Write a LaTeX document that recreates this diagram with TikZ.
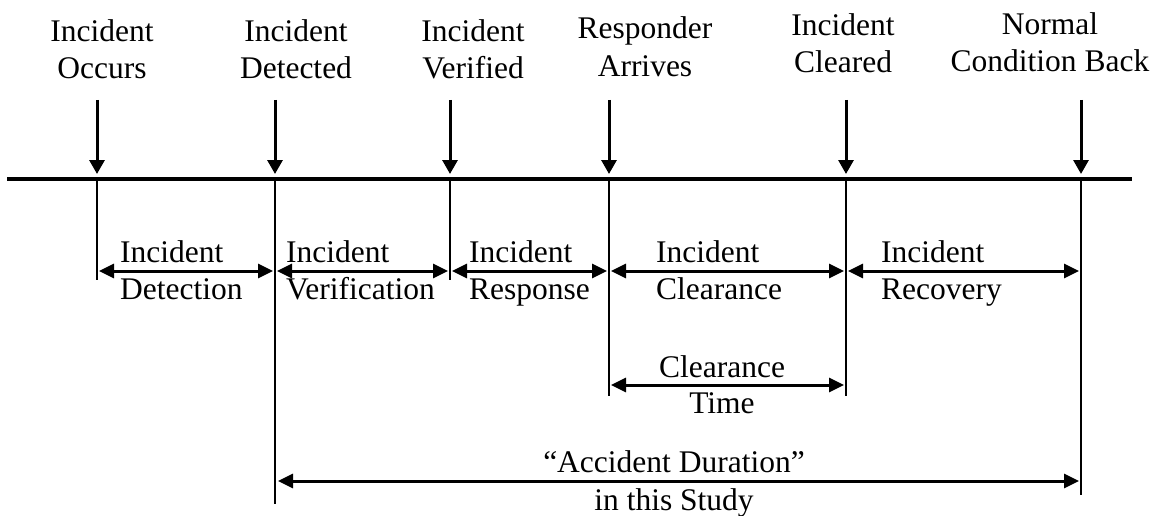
\documentclass[tikz,border=0pt]{standalone}
\usepackage{fontspec}
\setmainfont{Liberation Serif}
\usetikzlibrary{arrows.meta}

\begin{document}
\begin{tikzpicture}[x=1pt,y=-1pt,
  lbl/.style={inner sep=0pt,anchor=base,font=\fontsize{31.5}{37}\selectfont},
  lblw/.style={lbl,anchor=base west},
  timeline/.style={line width=4pt},
  tick/.style={line width=2pt},
  event/.style={line width=3pt,-{Triangle[length=14pt,width=15pt]}},
  span/.style={line width=3pt,{Triangle[length=15pt,width=14pt]}-{Triangle[length=15pt,width=14pt]}}]
\useasboundingbox (0,0) rectangle (1155,516);

% time axis
\coordinate (axL) at (7,179);
\coordinate (axR) at (1132,179);
\draw[timeline] (axL) -- (axR);

% event instants on the axis
\coordinate (tOcc) at (97,179);
\coordinate (tDet) at (275,179);
\coordinate (tVer) at (450,179);
\coordinate (tRes) at (609,179);
\coordinate (tClr) at (846,179);
\coordinate (tNor) at (1081,179);

% event labels
\node[lbl] (occ1) at (102,42) {Incident};
\node[lbl] (occ2) at (102,79) {Occurs};
\node[lbl] (det1) at (296,42) {Incident};
\node[lbl] (det2) at (296,79) {Detected};
\node[lbl] (ver1) at (473,42) {Incident};
\node[lbl] (ver2) at (473,79) {Verified};
\node[lbl] (res1) at (645,39) {Responder};
\node[lbl] (res2) at (645,77) {Arrives};
\node[lbl] (clr1) at (843,36) {Incident};
\node[lbl] (clr2) at (843,73) {Cleared};
\node[lbl] (nor1) at (1050,35) {Normal};
\node[lbl] (nor2) at (1050,72) {Condition Back};

% arrows pointing down at each instant
\foreach \t in {tOcc,tDet,tVer,tRes,tClr,tNor}{
  \draw[event] ([yshift=79pt]\t) -- ([yshift=5pt]\t);
}

% drop lines below the axis
\coordinate (bOcc) at (97,280);
\coordinate (bDet) at (275,504);
\coordinate (bVer) at (450,280);
\coordinate (bRes) at (609,396);
\coordinate (bClr) at (846,396);
\coordinate (bNor) at (1081,495);
\draw[tick] (tOcc) -- (bOcc);
\draw[tick] (tDet) -- (bDet);
\draw[tick] (tVer) -- (bVer);
\draw[tick] (tRes) -- (bRes);
\draw[tick] (tClr) -- (bClr);
\draw[tick] (tNor) -- (bNor);

% phase spans
\coordinate (p0) at (99,271);
\coordinate (p1) at (273,271);
\coordinate (p2) at (277,271);
\coordinate (p3) at (448,271);
\coordinate (p4) at (452,271);
\coordinate (p5) at (607,271);
\coordinate (p6) at (611,271);
\coordinate (p7) at (844,271);
\coordinate (p8) at (848,271);
\coordinate (p9) at (1079,271);
\draw[span] (p0) -- (p1);
\draw[span] (p2) -- (p3);
\draw[span] (p4) -- (p5);
\draw[span] (p6) -- (p7);
\draw[span] (p8) -- (p9);

\node[lblw] (pd1) at (120,262) {Incident};
\node[lblw] (pd2) at (120,299) {Detection};
\node[lblw] (pv1) at (286,262) {Incident};
\node[lblw] (pv2) at (286,299) {Verification};
\node[lblw] (pr1) at (469,262) {Incident};
\node[lblw] (pr2) at (469,299) {Response};
\node[lblw] (pc1) at (656,262) {Incident};
\node[lblw] (pc2) at (656,299) {Clearance};
\node[lblw] (pk1) at (881,262) {Incident};
\node[lblw] (pk2) at (881,299) {Recovery};

% clearance time
\coordinate (c0) at (611,385);
\coordinate (c1) at (844,385);
\draw[span] (c0) -- (c1);
\node[lbl] (ct1) at (722,377) {Clearance};
\node[lbl] (ct2) at (722,413) {Time};

% duration used in the study
\coordinate (d0) at (278,481);
\coordinate (d1) at (1079,481);
\draw[span] (d0) -- (d1);
\node[lbl] (ad1) at (674,472) {“Accident Duration”};
\node[lbl] (ad2) at (674,510) {in this Study};
\end{tikzpicture}
\end{document}
